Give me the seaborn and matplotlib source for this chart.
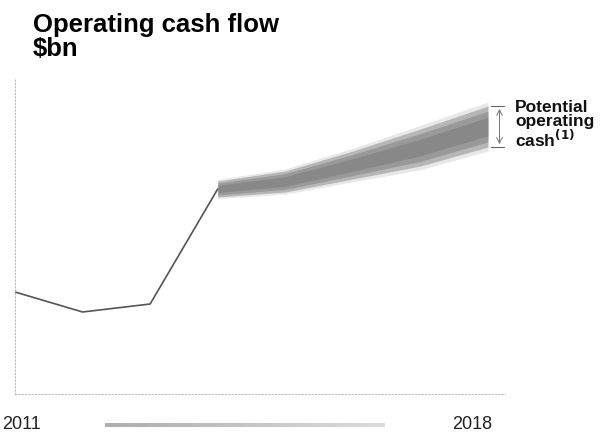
import matplotlib.pyplot as plt
import seaborn as sns
import numpy as np
import pandas as pd

years = [2011, 2012, 2013, 2014]
cash_flow = [10.2, 8.2, 9.0, 20.5]

# Potential operating cash range 2014-2018
band_years = [2014, 2015, 2016, 2017, 2018]
band_low = [19.7, 20.2, 21.5, 22.8, 24.7]
band_high = [21.3, 22.3, 24.3, 26.5, 28.8]

tick_labels = ['2011', '2018']
note_lines = 'Potential\noperating\ncash$^{\\mathbf{(1)}}$'

sns.set_style('white')
plt.rcParams['font.family'] = ['Liberation Sans', 'DejaVu Sans']

fig = plt.figure(figsize=(6.07, 4.35), dpi=100)
ax = fig.add_axes([15 / 607, 40 / 435, 490 / 607, 315 / 435])

df = pd.DataFrame({'year': years, 'cash': cash_flow})
sns.lineplot(data=df, x='year', y='cash', ax=ax, color='#555555', linewidth=1.2)

# grainy band: layered fills getting darker toward the centre
lo = np.array(band_low)
hi = np.array(band_high)
mid = (lo + hi) / 2
half = (hi - lo) / 2
for k, a in [(1.2, 0.12), (1.0, 0.3), (0.75, 0.25), (0.45, 0.2)]:
    ax.fill_between(band_years, mid - half * k, mid + half * k,
                    color='#444444', alpha=a, linewidth=0)

ax.set_xlim(2011, 2011 + 7 * 490 / 473)
ax.set_ylim(0, 31.5)
ax.set_xticks([])
ax.set_yticks([])
ax.set_xlabel('')
ax.set_ylabel('')
for s in ['top', 'right']:
    ax.spines[s].set_visible(False)
for s in ['left', 'bottom']:
    ax.spines[s].set_color('#bbbbbb')
    ax.spines[s].set_linestyle((0, (1, 2)))
    ax.spines[s].set_linewidth(0.8)

# bracket for the potential range
xb = band_years[-1] + 0.17
ax.plot([band_years[-1] + 0.05, xb + 0.07], [band_high[-1], band_high[-1]], color='#666666', lw=0.8)
ax.plot([band_years[-1] + 0.05, xb + 0.07], [band_low[-1], band_low[-1]], color='#666666', lw=0.8)
ax.annotate('', xy=(xb, band_high[-1]), xytext=(xb, band_low[-1]),
            arrowprops=dict(arrowstyle='<->', color='#777777', lw=0.7))
ax.text(band_years[-1] + 0.4, mid[-1] + 0.3, note_lines, fontsize=12.5, fontweight='bold',
        ha='left', va='center', linespacing=0.95, clip_on=False, color='#111111')

fig.text(33 / 607, 1 - 13 / 435, 'Operating cash flow\n$bn', fontsize=18.5, fontweight='bold',
         ha='left', va='top', linespacing=1.0, color='black')

# x labels under the axis
fig.text(2 / 607, 1 - 425 / 435, tick_labels[0], fontsize=13, ha='left', va='center', color='#222222')
fig.text(492 / 607, 1 - 425 / 435, tick_labels[1], fontsize=13, ha='right', va='center', color='#222222')

# fading arrow-bar between the labels
gax = fig.add_axes([105 / 607, 1 - 428 / 435, 280 / 607, 4 / 435])
grad = np.linspace(0.68, 0.86, 256).reshape(1, -1)
gax.imshow(grad, aspect='auto', cmap='gray', vmin=0, vmax=1)
gax.axis('off')

fig.savefig('out.png', dpi=100)
